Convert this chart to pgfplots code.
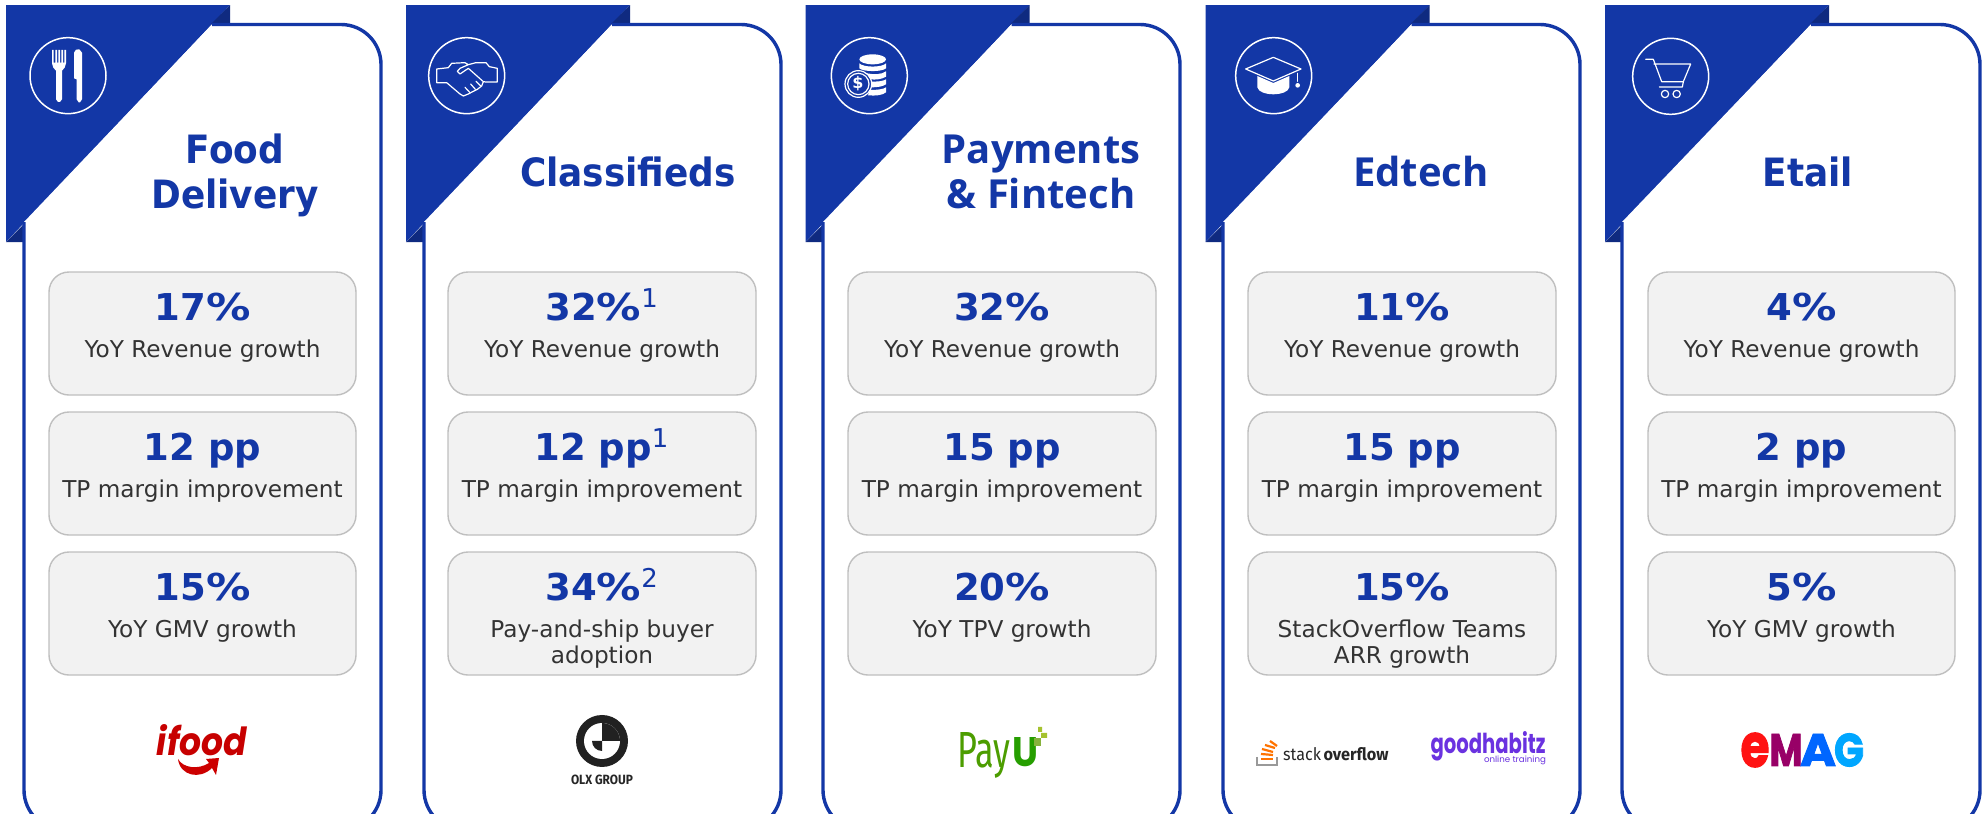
\documentclass[border=0pt]{standalone}
\usepackage{fontspec}
\setmainfont{DejaVu Sans}
\newfontfamily\titlefont{DejaVu Sans}[FakeStretch=0.92]
\newfontfamily\altfont{Open Sans}
\newfontfamily\popfont{Poppins}
\newfontfamily\heavyfont{Poppins}[BoldFeatures={FakeBold=2}]
\newfontfamily\firafont{Fira Sans}
\usepackage{graphicx}
\usepackage{pgfplots}
\pgfplotsset{compat=1.18}
\definecolor{NavyBlue}{HTML}{1337A6}
\definecolor{DarkBlue}{HTML}{0F2A80}
\definecolor{BoxFill}{HTML}{F2F2F2}
\definecolor{BoxEdge}{HTML}{BFBFBF}
\definecolor{BodyText}{HTML}{333333}
\definecolor{GoodPurple}{HTML}{6A32E0}

\newcommand{\fs}[1]{\fontsize{#1}{#1}\selectfont}
\newcommand{\up}[1]{\textsuperscript{\normalfont #1}}
\newcommand{\pc}{\scalebox{1.2}[1]{\%}}

% one card: left of banner #1, left edge #2, right edge #3
\newcommand{\card}[3]{
  \addplot[fill=NavyBlue,draw=none] coordinates {(#1,5)(#1+224,5)(#1,242)};
  \addplot[fill=DarkBlue,draw=none] coordinates {(#1+224,5)(#1+224,24)(#1+205,24)};
  \addplot[fill=DarkBlue,draw=none] coordinates {(#1,242)(#1+18,242)(#1+18,224)};
  \addplot[fill=white,draw=none,rounded corners=20pt] coordinates
    {(#1+206,24.5)(#3,24.5)(#3,830)(#2,830)(#2,222)};
  \addplot[draw=NavyBlue,line width=1.7pt,rounded corners=20pt] coordinates
    {(#1+206,24.5)(#3,24.5)(#3,830)(#2,830)(#2,222)};
}
% grey tile: left #1, right #2, top #3, bottom #4
\newcommand{\tile}[4]{
  \addplot[fill=BoxFill,draw=BoxEdge,line width=0.7pt,rounded corners=10pt] coordinates
    {(#1+100,#3)(#2,#3)(#2,#4)(#1,#4)(#1,#3)(#1+100,#3)};
}
% fitted logo word, centred on #1,#2, width #3 px, height #4 px
\newcommand{\fit}[6]{
  \node[inner sep=0pt,text=#5,anchor=center] at (#1,#2) {\resizebox{\dimexpr#3pt/2\relax}{\dimexpr#4pt/2\relax}{#6}};
}

\begin{document}
\begin{tikzpicture}
\begin{axis}[
  at={(0,0)}, anchor=south west,
  scale only axis, width=991pt, height=407pt,
  xmin=0, xmax=1982, ymin=0, ymax=814, y dir=reverse,
  hide axis, no markers,
  txt/.style={draw=none, nodes near coords, point meta=explicit symbolic,
    every node near coord/.append style={anchor=base, inner sep=0pt, #1}},
]
\card{6}{24}{381}
\card{406}{424}{781}
\card{805.5}{823}{1180}
\card{1205.5}{1223}{1580}
\card{1605}{1622}{1980}

\tile{49}{356}{272}{395}\tile{49}{356}{412}{535}\tile{49}{356}{552}{675}
\tile{448}{756}{272}{395}\tile{448}{756}{412}{535}\tile{448}{756}{552}{675}
\tile{848}{1156}{272}{395}\tile{848}{1156}{412}{535}\tile{848}{1156}{552}{675}
\tile{1248}{1556}{272}{395}\tile{1248}{1556}{412}{535}\tile{1248}{1556}{552}{675}
\tile{1648}{1955}{272}{395}\tile{1648}{1955}{412}{535}\tile{1648}{1955}{552}{675}

% titles
\addplot[txt={text=NavyBlue,font=\titlefont\fs{19.5}\bfseries}] coordinates {
  (235,163)[Food] (235,208)[Delivery] (628,186)[Classifieds] (1808,186)[Etail]};
\addplot[txt={text=NavyBlue,font=\altfont\fs{20}\bfseries}] coordinates {
  (1041,163)[Payments] (1041,208)[\& Fintech] (1421,186)[Edtech]};

% headline values
\addplot[txt={text=NavyBlue,font=\fs{18.5}\bfseries}] coordinates {
  (202.5,320)[17\pc]    (202.5,460)[12 pp]      (202.5,600)[15\pc]
  (602,320)[32\pc\up{1}] (602,460)[12 pp\up{1}] (602,600)[34\pc\up{2}]
  (1002,320)[32\pc]     (1002,460)[15 pp]       (1002,600)[20\pc]
  (1402,320)[11\pc]     (1402,460)[15 pp]       (1402,600)[15\pc]
  (1801.5,320)[4\pc]    (1801.5,460)[2 pp]      (1801.5,600)[5\pc]};

% captions
\addplot[txt={text=BodyText,font=\fs{11.6}}] coordinates {
  (202.5,357)[YoY Revenue growth] (202.5,497)[TP margin improvement] (202.5,637)[YoY GMV growth]
  (602,357)[YoY Revenue growth]   (602,497)[TP margin improvement]
  (602,637)[Pay-and-ship buyer]   (602,663)[adoption]
  (1002,357)[YoY Revenue growth]  (1002,497)[TP margin improvement] (1002,637)[YoY TPV growth]
  (1402,357)[YoY Revenue growth]  (1402,497)[TP margin improvement]
  (1402,637)[StackOverflow Teams] (1402,663)[ARR growth]
  (1801.5,357)[YoY Revenue growth] (1801.5,497)[TP margin improvement] (1801.5,637)[YoY GMV growth]};
\end{axis}

% icons, in 3x crop pixels of each banner
\tikzset{zoomed/.style={shift={(#1*0.5pt,407pt)},x=0.16667pt,y=-0.16667pt,
  white,line width=0.6pt,line join=round,line cap=round}}

\begin{scope}[zoomed=0]
  \draw[line width=0.75pt] (204,227) circle[radius=19pt];
  \fill (156,150)--(161,150)--(161,188)--(166,188)--(166,150)--(171,150)--(171,188)--(175,188)--(175,150)--(180,150)
    --(180,188)--(184,188)--(184,150)--(189,150)--(189,188)--(193,188)--(193,150)--(198,150)--(198,190)
    --(194,203)--(186,212)--(186,298)--(180,306)--(174,306)--(168,298)--(168,212)--(160,203)--(156,190)--cycle;
  \fill (222,235)--(222,158)--(228,149)--(238,148)--(246,158)--(246,298)--(240,307)--(236,307)--(230,298)--(230,238)--cycle;
\end{scope}

\begin{scope}[zoomed=400]
  \draw[line width=0.75pt] (200,227) circle[radius=19pt];
  \draw (110,248)--(110,207)--(145,203)--(155,190)--(195,188)--(205,194)--(180,205)--(172,214)--(180,222)--(205,205)
    --(250,245)--(245,258)--(232,268)--(218,275)--(205,282)--(190,288)--(180,282)--(140,248)--cycle;
  \draw (205,194)--(228,188)--(258,188)--(268,200)--(292,205)--(292,246)--(258,246)--(250,245);
  \draw (195,262)--(210,278) (212,252)--(226,268) (228,244)--(242,258);
\end{scope}

\begin{scope}[zoomed=800]
  \draw[line width=0.75pt] (208,227) circle[radius=19pt];
  \fill (218,178) ellipse[x radius=40,y radius=15];
  \fill (178,190) .. controls (190,203) and (246,203) .. (258,190)--(258,205) .. controls (246,216) and (190,216) .. (178,205)--cycle;
  \fill (200,220) .. controls (220,224) and (246,224) .. (258,214)--(258,230) .. controls (246,238) and (225,240) .. (212,238)--cycle;
  \fill (214,245) .. controls (230,245) and (250,244) .. (258,238)--(258,253) .. controls (248,260) and (230,262) .. (216,262)--cycle;
  \fill (210,270) .. controls (230,270) and (250,268) .. (258,262)--(258,277) .. controls (248,286) and (226,288) .. (204,286)--cycle;
  \draw[fill=NavyBlue] (175,252) circle[radius=40];
  \draw (175,252) circle[radius=32];
  \node[inner sep=0pt,text=white,font=\fs{8}\bfseries] at (174,252) {\$};
\end{scope}

\begin{scope}[zoomed=1200]
  \draw[line width=0.75pt] (221,227) circle[radius=19pt];
  \draw (137,207)--(220,172)--(303,207)--(220,243)--cycle;
  \fill (172,228)--(220,249)--(268,228)--(268,262) .. controls (262,290) and (178,290) .. (172,262)--cycle;
  \draw (293,220)--(293,244);
  \fill (293,256) circle[radius=7];
\end{scope}

\begin{scope}[zoomed=1600]
  \draw[line width=0.75pt] (212,229) circle[radius=19pt];
  \draw (137,178)--(160,178)--(185,245)--(250,245)--(272,192)--(162,192);
  \draw (178,261)--(247,261)--(250,245);
  \draw (195,282) circle[radius=11];
  \draw (230,282) circle[radius=11];
\end{scope}

% logos, in full size pixels
\begin{scope}[shift={(0,407pt)},x=0.5pt,y=-0.5pt]
  % ifood
  \fit{202}{740}{90}{31}{red!78!black}{\popfont\bfseries\itshape ifood}
  \fill[red!80!black] (178,759) .. controls (183,768) and (198,770) .. (209,763)--(206,759)--(219,758)--(216,775)--(212,768)
    .. controls (200,780) and (180,776) .. (178,759)--cycle;
  % OLX group
  \fill[black!87] (602,741) circle[radius=26];
  \fill[white] (602,741) circle[radius=18];
  \fill[black!87] (602,741)--(620,741) arc[start angle=0,end angle=-90,radius=18]--cycle;
  \fill[black!87] (602,741)--(592,741) arc[start angle=180,end angle=90,radius=10]--cycle;
  \fit{602}{780}{62}{9.5}{black!85}{\firafont\bfseries OLX GROUP}
  % PayU
  \fit{983.5}{755.5}{53}{35}{green!45!black!70!yellow}{\firafont Pay}
  \fit{1025}{752}{26}{29}{green!55!black!85!yellow}{\popfont\bfseries U}
  \fill[yellow!70!green!85!black] (1038,727) rectangle (1042,732) (1041,733) rectangle (1047,738);
  \fill[yellow!55!green!80!black] (1034,738) rectangle (1041,746);
  % stackoverflow
  \draw[black!40,line width=1pt] (1257,757)--(1257,765)--(1277,765)--(1277,757);
  \foreach \a/\b/\c/\d in {1261/759/1273/759,1261/754/1273/755,1262/749/1273/752,1265/745/1275/748,1270/741/1277/746}
    \draw[orange!90!red,line width=1.1pt] (\a,\b)--(\c,\d);
  \fit{1302}{754.5}{38}{13}{black!85}{\firafont stack}
  \fit{1356}{754.5}{65}{13}{black!85}{\firafont\bfseries overflow}
  % goodhabitz
  \fit{1488}{746}{115}{22}{GoodPurple}{\popfont\bfseries goodhabitz}
  \fit{1515}{760}{62}{6.5}{GoodPurple}{\popfont online training}
  % eMAG
  \fit{1755}{750}{29}{34}{red!90!pink}{\heavyfont\bfseries e}
  \fit{1786}{750}{33}{32}{violet!60!red!85!blue}{\heavyfont\bfseries M}
  \fit{1818}{750}{36}{32}{blue!60!cyan}{\heavyfont\bfseries A}
  \fit{1849}{750}{30}{33}{blue!35!cyan}{\heavyfont\bfseries G}
\end{scope}
\pgfresetboundingbox
\useasboundingbox (0,0) rectangle (991pt,407pt);
\end{tikzpicture}
\end{document}
